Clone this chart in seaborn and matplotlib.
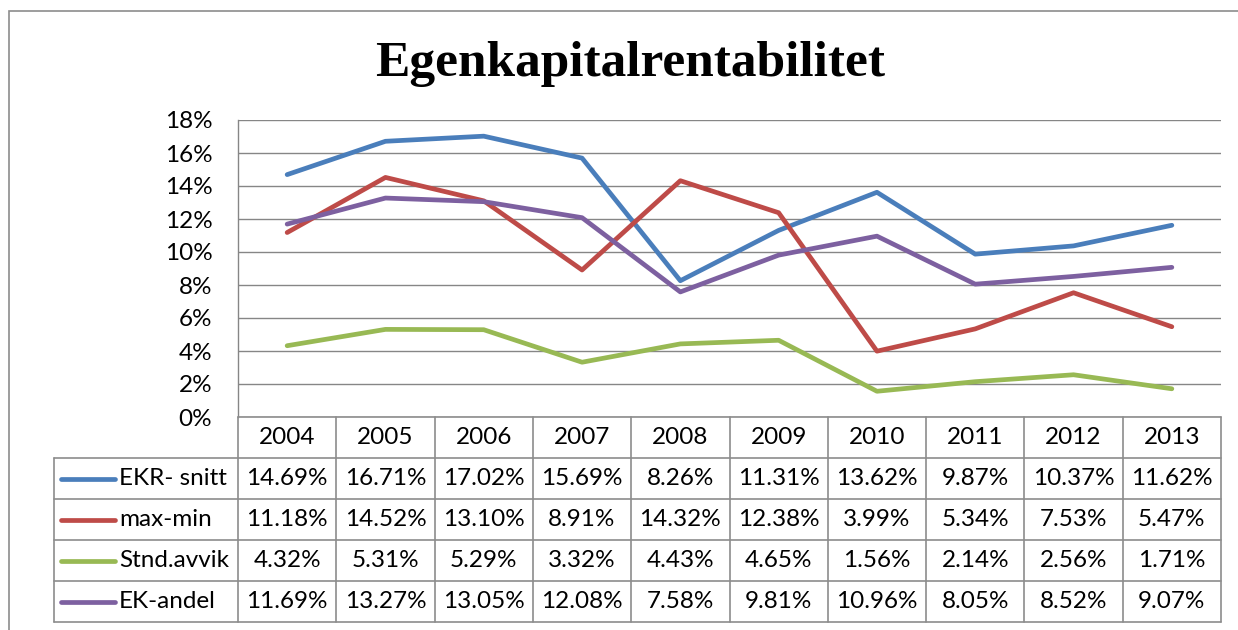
import numpy as np
import pandas as pd
import matplotlib
matplotlib.use("Agg")
import matplotlib.pyplot as plt
import seaborn as sns

years = [2004, 2005, 2006, 2007, 2008, 2009, 2010, 2011, 2012, 2013]
ekr_snitt = [14.69, 16.71, 17.02, 15.69, 8.26, 11.31, 13.62, 9.87, 10.37, 11.62]
max_min = [11.18, 14.52, 13.10, 8.91, 14.32, 12.38, 3.99, 5.34, 7.53, 5.47]
stnd_avvik = [4.32, 5.31, 5.29, 3.32, 4.43, 4.65, 1.56, 2.14, 2.56, 1.71]
ek_andel = [11.69, 13.27, 13.05, 12.08, 7.58, 9.81, 10.96, 8.05, 8.52, 9.07]
series_names = ["EKR- snitt", "max-min", "Stnd.avvik", "EK-andel"]
series_values = [ekr_snitt, max_min, stnd_avvik, ek_andel]
colors = ["#4A7EBB", "#BE4B48", "#98B954", "#7D60A0"]

sns.set_theme(style="white")
plt.rcParams["font.family"] = ["Lato", "DejaVu Sans"]
plt.rcParams["text.color"] = "black"
plt.rcParams["ytick.color"] = "black"

df = pd.concat([pd.DataFrame({"year": years, "value": v, "serie": n})
                for n, v in zip(series_names, series_values)])

W, H = 1238, 630
fig = plt.figure(figsize=(W / 100, H / 100), dpi=100)

def box(x0, y0, x1, y1):
    return [x0 / W, 1 - y1 / H, (x1 - x0) / W, (y1 - y0) / H]

grid_c = "#868686"
fs = 17.5
lw_series = 3.4

# figure frame
fig.patches.append(plt.Rectangle((9 / W, -0.1), 1.2, 1 - 11 / H + 0.1,
                                 transform=fig.transFigure, fill=False,
                                 edgecolor="#8c8c8c", lw=1.2))

ax = fig.add_axes(box(238, 120, 1221, 417))
sns.lineplot(data=df, x="year", y="value", hue="serie", hue_order=series_names,
             palette=dict(zip(series_names, colors)), lw=lw_series, legend=False,
             sort=False, ax=ax)
ax.set_xlim(2003.5, 2013.5)
ax.set_ylim(0, 18)
ax.set_yticks(np.arange(0, 19, 2))
ax.set_yticklabels([f"{t}%" for t in range(0, 19, 2)], fontsize=fs)
ax.tick_params(axis="y", length=0, pad=18.5, labelcolor="black")
ax.set_xticks([])
ax.set_xlabel("")
ax.set_ylabel("")
ax.yaxis.grid(True, color=grid_c, lw=1)
ax.set_axisbelow(True)
for s in ["top", "right", "bottom"]:
    ax.spines[s].set_visible(False)
ax.spines["left"].set_color(grid_c)
ax.spines["left"].set_linewidth(1)

# data table under the plot
unit = 983 / 10
left_ext = (238 - 54) / unit
tx = fig.add_axes(box(54, 417, 1221, 622))
x_lo = 2003.5 - left_ext
tx.set_xlim(x_lo, 2013.5)
tx.set_ylim(5, 0)
tx.axis("off")
lc = "#8c8c8c"
tx.plot([2003.5, 2013.5], [0, 0], color=lc, lw=1.2, clip_on=False)
for r in range(1, 6):
    tx.plot([x_lo, 2013.5], [r, r], color=lc, lw=1.2, clip_on=False)
for k in range(11):
    xb = 2003.5 + k
    tx.plot([xb, xb], [0, 5], color=lc, lw=1.2, clip_on=False)
tx.plot([x_lo, x_lo], [1, 5], color=lc, lw=1.2, clip_on=False)

for y in years:
    tx.text(y, 0.5, str(y), ha="center", va="center", fontsize=fs)
for i, (n, v, c) in enumerate(zip(series_names, series_values, colors)):
    r = i + 1.5
    tx.plot([x_lo + 7 / unit, x_lo + 61 / unit], [r, r], color=c, lw=lw_series,
            solid_capstyle="round")
    tx.text(x_lo + 65 / unit, r, n, ha="left", va="center", fontsize=fs)
    for y, val in zip(years, v):
        tx.text(y, r, f"{val:.2f}%", ha="center", va="center", fontsize=fs)

fig.text(630 / W, 1 - 76 / H, "Egenkapitalrentabilitet", ha="center", va="baseline",
         fontsize=37, fontweight="bold", family="Liberation Serif")

fig.savefig("out.png", dpi=100)
